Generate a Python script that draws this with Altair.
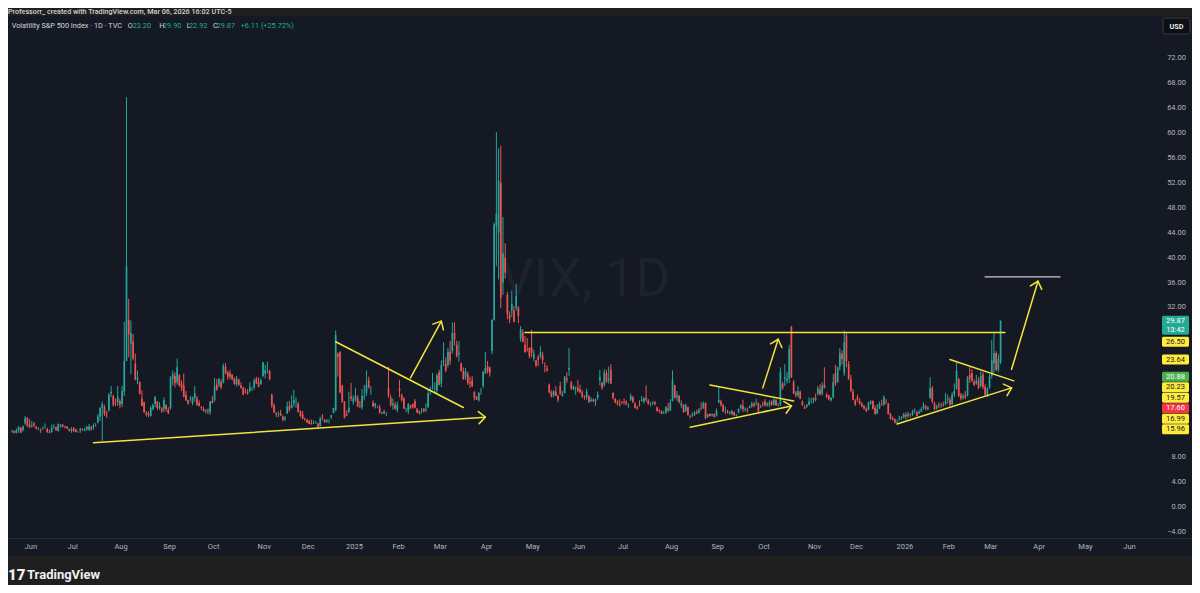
import math
import altair as alt
import pandas as pd

# ---------------- data ----------------
HOLIDAYS = ["2024-05-27", "2024-06-19", "2024-07-04", "2024-09-02", "2024-11-28", "2024-12-25",
            "2025-01-01", "2025-01-09", "2025-01-20", "2025-02-17", "2025-04-18", "2025-05-26",
            "2025-06-19", "2025-07-04", "2025-09-01", "2025-11-27", "2025-12-25",
            "2026-01-01", "2026-01-19", "2026-02-16", "2026-04-03", "2026-05-25", "2026-06-19"]

# daily candles (open, high, low, close) per month
MAY24 = [(12.1,12.4,11.9,12.2),(12.2,12.3,11.8,11.9),(11.9,12.6,11.8,12.3),(12.3,13.0,11.9,12.8),(12.7,12.8,11.9,11.9),
         (12.4,13.1,12.1,12.9),(13.4,14.6,13.2,14.3),(14.2,14.4,12.9,12.9),(13.2,14.1,12.6,12.9)]
JUN24 = [(13.0,13.8,12.7,13.1),(13.4,13.6,12.8,13.1),(12.9,13.0,12.4,12.6),(12.6,12.8,12.3,12.6),(12.3,12.6,11.9,12.2),
         (12.6,12.9,12.4,12.7),(12.9,13.4,12.6,12.9),(12.5,12.7,11.9,12.0),(12.0,12.4,11.8,11.9),(12.0,13.2,11.9,12.7),
         (12.7,13.3,12.6,12.8),(12.8,12.9,12.2,12.3),(12.2,13.4,12.1,13.3),(13.1,13.3,12.7,13.2),(13.2,13.3,12.8,12.8),
         (12.9,13.0,12.6,12.8),(12.9,13.0,12.5,12.6),(12.5,12.6,12.1,12.2),(12.2,12.8,11.9,12.4)]
JUL24 = [(12.6,12.8,12.0,12.2),(12.4,12.6,12.0,12.0),(12.1,12.2,11.9,12.1),(12.3,12.7,11.9,12.5),(12.5,12.6,12.2,12.4),
         (12.4,12.7,12.1,12.5),(12.5,12.9,12.2,12.9),(12.4,13.3,12.2,12.9),(12.8,13.0,12.2,12.5),(12.8,13.4,12.4,13.1),
         (13.2,13.5,12.9,13.2),(13.6,14.9,13.4,14.5),(14.5,16.0,13.8,15.9),(15.9,16.9,10.6,16.5),(16.0,16.4,14.6,14.9),
         (14.8,15.4,14.3,14.7),(15.5,18.3,15.3,18.0),(18.2,19.4,17.6,18.5),(17.8,18.0,16.1,16.4),(16.7,17.4,16.2,16.6),
         (16.8,19.4,16.2,17.7),(17.0,17.3,15.8,16.4)]
AUG24 = [(16.5,19.4,16.0,18.6),(18.5,29.7,17.8,23.4),(23.4,65.7,23.4,38.6),(30.0,33.4,24.0,27.7),(26.2,29.9,21.3,27.9),
         (26.5,27.7,23.5,23.8),(23.0,24.6,20.3,20.4),(20.4,21.9,19.7,20.7),(20.0,20.2,18.1,18.1),(17.4,18.7,16.2,16.2),
         (16.8,16.9,15.1,15.2),(15.1,15.4,14.5,14.8),(15.0,15.3,14.4,14.7),(14.6,16.2,14.5,15.9),(15.7,16.6,15.5,16.3),
         (16.5,17.8,16.0,17.6),(16.9,17.0,15.5,15.9),(15.9,16.8,15.6,16.2),(15.8,16.0,15.1,15.4),(15.7,17.6,15.2,17.1),
         (16.3,16.5,15.3,15.7),(15.6,16.0,14.9,15.0)]
SEP24 = [(15.8,21.0,15.6,20.7),(20.6,21.9,19.5,21.3),(21.0,21.6,19.2,19.9),(20.0,23.8,19.6,22.4),(21.1,21.3,19.3,19.5),
         (19.8,20.3,18.6,19.1),(19.5,21.4,17.6,17.7),(18.0,18.6,17.0,17.1),(17.1,17.2,16.4,16.6),(17.1,17.8,16.9,17.1),
         (16.6,17.7,16.3,17.6),(17.5,19.4,16.9,18.2),(17.4,17.8,16.3,16.3),(16.7,17.1,16.1,16.2),(16.0,16.2,15.6,15.9),
         (15.7,16.1,15.3,15.4),(15.3,15.7,15.0,15.4),(15.5,15.8,14.9,15.4),(15.2,17.0,14.8,16.9),(17.0,17.8,16.6,16.7)]
OCT24 = [(17.1,20.7,16.9,19.3),(19.6,20.5,18.6,18.9),(19.6,20.7,19.2,20.5),(20.0,20.5,18.9,19.2),(20.0,23.0,19.8,22.6),
         (22.5,23.1,21.3,21.4),(21.6,21.8,20.4,20.9),(21.5,22.0,20.5,20.9),(21.2,21.3,20.3,20.5),(20.6,20.8,19.6,19.7),
         (19.7,21.0,19.3,20.6),(20.4,20.6,19.4,19.6),(19.5,20.0,19.0,19.1),(19.1,19.3,18.0,18.0),(18.5,19.1,18.2,18.4),
         (18.5,18.9,18.0,18.2),(18.6,20.0,18.4,19.2),(19.1,19.3,18.6,19.1),(19.2,20.6,18.8,20.3),(20.6,20.9,19.7,19.8),
         (20.0,20.8,19.2,19.3),(19.7,20.6,19.6,20.4),(21.0,23.2,20.8,23.2)]
NOV24 = [(21.4,22.8,20.6,21.9),(22.0,23.3,21.4,22.0),(21.8,22.0,20.3,20.5),(18.0,18.2,15.9,16.3),(16.3,16.6,15.1,15.2),
         (15.1,15.2,14.4,14.9),(15.0,15.3,14.4,15.0),(15.0,15.6,14.6,14.7),(14.5,14.7,13.7,14.0),(14.1,14.6,13.8,14.3),
         (15.0,16.9,14.9,16.1),(16.2,17.0,15.3,15.6),(15.9,17.9,15.8,16.4),(16.6,18.8,16.1,17.2),(16.9,17.6,15.9,16.9),
         (16.6,16.8,15.2,15.2),(15.3,15.5,14.4,14.6),(14.9,15.4,14.1,14.1),(14.2,14.3,13.8,14.1),(14.0,14.1,13.5,13.5)]
DEC24 = [(13.8,14.0,13.3,13.3),(13.5,14.0,13.2,13.3),(13.5,13.9,13.3,13.5),(13.5,13.8,13.3,13.5),(13.4,13.5,12.7,12.8),
         (13.0,14.5,12.9,14.2),(14.3,14.9,13.9,14.2),(14.0,14.1,13.5,13.6),(13.7,14.1,13.5,13.9),(13.8,14.1,13.4,13.8),
         (14.4,14.8,14.1,14.7),(15.1,15.9,15.0,15.9),(15.6,28.3,15.3,27.6),(24.5,24.8,20.9,24.1),(24.8,25.0,18.2,18.4),
         (19.4,19.6,16.8,16.8),(16.9,17.0,14.2,14.3),(14.9,15.5,14.6,14.7),(15.2,18.5,15.1,15.9),(17.7,19.9,17.0,17.4),
         (16.9,17.9,16.4,17.4)]
JAN25 = [(17.2,19.1,16.9,17.9),(17.5,17.9,16.1,16.1),(16.1,17.0,15.9,16.0),(16.0,18.9,15.6,17.8),(17.6,19.6,17.1,17.7),
         (18.3,21.9,17.8,19.5),(20.3,20.9,19.0,19.2),(18.7,19.4,18.0,18.7),(16.7,17.1,16.0,16.1),(16.2,16.7,15.8,16.6),
         (16.0,16.2,15.9,16.0),(16.0,16.4,15.0,15.1),(15.0,15.3,14.9,15.1),(15.3,15.6,14.9,15.0),(14.9,15.2,14.6,14.9),
         (19.0,22.5,17.5,17.9),(17.5,18.0,16.1,16.4),(16.3,17.4,15.6,16.6),(16.4,16.8,15.6,15.8),(15.5,16.9,15.2,16.4)]
FEB25 = [(19.0,20.4,17.6,18.6),(18.0,18.2,16.9,17.2),(17.4,17.6,15.7,15.8),(15.5,15.9,15.2,15.5),(15.4,16.7,14.9,16.5),
         (16.2,16.4,15.8,15.8),(16.5,16.6,15.8,16.0),(17.0,17.3,15.8,15.9),(15.7,15.9,15.1,15.1),(15.3,15.5,14.8,15.0),
         (15.4,15.9,15.0,15.4),(15.8,15.8,15.2,15.3),(15.6,16.6,15.2,15.7),(16.0,18.9,15.9,18.2),(18.9,19.3,18.0,18.9),
         (19.3,21.5,18.8,19.4),(19.0,20.0,18.2,19.1),(18.7,21.4,18.1,21.1),(21.6,22.0,19.5,19.6)]
MAR25 = [(19.8,23.5,19.2,22.8),(23.2,26.4,22.6,23.5),(23.0,24.0,21.6,21.9),(22.8,25.5,22.4,24.9),(24.9,26.6,22.8,23.4),
         (25.0,29.6,24.6,27.9),(27.9,29.6,25.9,26.9),(26.0,26.7,24.0,24.2),(24.5,26.6,23.3,24.7),(23.0,23.2,21.7,21.8),
         (21.8,22.4,20.4,20.5),(20.9,22.3,20.4,21.7),(21.3,21.7,19.6,19.9),(20.0,20.9,19.1,19.8),(20.3,21.0,19.3,19.3),
         (18.5,18.5,17.1,17.5),(17.7,17.8,17.2,17.2),(17.1,18.4,16.9,18.3),(18.7,19.1,18.0,18.7),(19.4,21.8,19.1,21.7),
         (21.5,24.9,21.3,22.3)]
APR25 = [(22.6,23.4,21.4,21.8),(22.4,22.5,20.9,21.5),(25.0,30.1,24.5,30.0),(30.0,45.6,29.9,45.3),(45.0,60.1,38.6,47.0),
         (44.0,57.5,36.5,52.3),(52.0,57.9,31.9,33.6),(36.0,46.5,34.0,40.7),(40.0,42.3,36.6,37.6),(34.0,34.5,30.1,30.9),
         (30.8,31.4,29.5,30.1),(31.5,34.7,30.5,32.6),(31.5,32.2,29.6,29.7),(32.0,35.8,31.5,33.8),(32.0,32.2,29.5,30.6),
         (27.0,29.0,26.5,28.5),(28.0,28.5,26.4,26.5),(26.0,27.4,24.8,24.8),(25.3,27.1,24.9,25.2),(25.5,25.6,23.8,24.2),
         (25.6,28.4,24.0,24.7)]
MAY25 = [(23.8,25.2,23.4,24.6),(23.5,23.6,22.4,22.7),(24.1,24.4,22.6,23.6),(24.2,25.8,23.8,24.8),(24.3,24.9,22.9,23.6),
         (22.6,23.2,21.6,22.5),(22.2,22.7,21.7,21.9),(19.6,19.8,18.2,18.4),(18.4,18.7,17.6,17.7),(17.9,18.7,17.6,18.6),
         (18.5,19.4,17.8,17.8),(17.8,18.0,16.8,17.2),(19.4,20.1,18.0,18.1),(17.8,18.6,17.7,18.1),(18.3,21.0,18.2,20.9),
         (20.6,21.6,19.9,20.3),(22.0,25.5,21.0,22.3),(20.0,20.2,18.8,19.0),(18.9,19.5,18.7,19.3),(19.0,19.3,18.0,19.2),
         (19.1,20.4,18.4,18.6)]
JUN25 = [(18.9,19.6,18.2,18.4),(18.4,18.8,17.5,17.7),(17.7,17.9,17.2,17.6),(17.6,19.0,17.2,18.5),(17.8,17.9,16.7,16.8),
         (17.0,17.6,16.8,17.2),(17.2,17.4,16.8,17.0),(16.9,17.4,16.2,17.3),(17.5,18.5,17.2,18.0),(20.3,22.0,19.5,20.8),
         (19.9,20.1,18.8,19.1),(19.6,22.1,19.3,21.6),(21.5,22.0,19.9,20.1),(20.3,22.5,19.8,20.6),(22.0,22.9,19.7,19.8),
         (18.3,18.4,17.2,17.5),(17.3,17.5,16.6,16.8),(16.9,17.1,16.3,16.6),(16.5,17.3,16.1,16.3),(16.8,17.0,16.5,16.7)]
JUL25 = [(16.9,17.4,16.4,16.8),(16.9,17.1,16.3,16.6),(16.4,16.6,15.9,16.4),(17.2,18.2,17.0,17.8),(17.6,17.8,16.7,16.8),
         (16.6,16.8,15.8,15.9),(16.0,16.2,15.6,15.8),(16.5,17.1,16.1,16.4),(17.0,17.8,16.9,17.2),(16.9,17.6,16.6,17.4),
         (17.5,19.5,16.9,17.2),(17.1,17.3,16.4,16.5),(16.4,16.8,16.1,16.4),(16.6,17.0,16.3,16.7),(16.8,17.0,16.3,16.5),
         (16.0,16.1,15.3,15.4),(15.5,15.7,15.1,15.4),(15.3,15.5,14.9,14.9),(15.0,15.4,14.9,15.0),(15.1,16.2,14.9,16.0),
         (15.8,16.7,15.2,15.5),(15.5,17.3,15.4,16.7)]
AUG25 = [(17.0,21.9,16.9,20.4),(19.5,19.6,17.4,17.5),(17.6,18.6,17.0,17.9),(17.8,18.0,16.6,16.8),(16.3,17.1,15.9,16.6),
         (16.4,16.5,15.1,15.2),(15.4,16.6,15.2,16.3),(16.0,16.1,14.7,14.7),(14.6,14.8,14.2,14.5),(14.7,15.2,14.4,14.8),
         (14.8,15.4,14.6,15.1),(15.2,15.6,14.9,15.0),(15.1,15.9,15.0,15.6),(15.8,16.8,15.5,15.7),(15.9,16.9,15.7,16.6),
         (16.7,16.8,14.1,14.2),(14.5,15.0,14.3,14.8),(14.9,15.0,14.5,14.6),(14.7,15.0,14.5,14.9),(14.9,15.0,14.4,14.4),
         (14.7,15.8,14.5,15.4)]
SEP25 = [(16.8,19.4,16.6,17.2),(16.9,17.2,16.1,16.4),(16.4,16.5,15.2,15.3),(15.2,16.1,14.9,15.2),(15.3,15.6,15.0,15.1),
         (15.1,15.4,14.8,15.0),(14.9,15.6,14.7,15.4),(15.2,15.3,14.6,14.7),(14.7,14.9,14.5,14.8),(15.2,15.8,15.0,15.7),
         (15.9,16.4,15.6,16.4),(16.2,17.2,15.2,15.7),(15.6,16.0,15.3,15.7),(15.6,15.9,15.1,15.5),(15.9,16.3,15.8,16.1),
         (16.2,16.9,15.9,16.6),(16.5,16.8,16.0,16.2),(16.6,17.4,16.3,16.7),(16.6,16.8,15.2,15.3),(16.0,16.4,15.9,16.1),
         (16.4,16.9,16.1,16.3)]
OCT25 = [(16.9,17.3,16.1,16.3),(16.3,16.8,16.1,16.6),(16.4,17.1,16.0,16.7),(16.9,17.1,16.2,16.4),(16.4,17.4,16.3,17.2),
         (17.1,17.3,16.2,16.3),(16.3,16.7,16.1,16.4),(16.5,22.4,16.2,21.7),(19.8,20.0,18.8,19.0),(20.6,22.9,19.4,20.8),
         (20.3,21.7,19.8,20.6),(20.6,26.0,19.9,25.3),(28.9,29.0,20.7,20.8),(20.0,20.4,18.1,18.2),(18.3,18.6,17.6,17.9),
         (17.9,19.4,17.6,18.6),(18.5,18.7,17.3,17.3),(16.9,17.1,16.2,16.4),(16.0,16.3,15.7,15.8),(16.1,16.5,15.9,16.4),
         (16.4,17.6,16.3,16.9),(16.9,17.5,16.6,16.9),(17.1,17.6,16.6,17.4)]
NOV25 = [(17.5,18.2,16.9,17.2),(18.2,19.4,17.9,19.0),(18.8,19.7,17.9,18.0),(18.2,20.0,17.9,19.5),(19.6,22.4,19.0,19.1),
         (18.0,18.3,17.4,17.6),(17.9,18.0,17.1,17.3),(17.1,17.6,16.9,17.5),(17.6,21.3,17.4,20.0),(21.5,22.8,19.4,19.8),
         (20.1,22.5,19.9,22.4),(22.5,25.5,21.9,24.7),(24.5,25.1,22.8,23.7),(21.5,28.3,21.0,26.4),(27.5,28.0,22.4,23.4),
         (22.9,23.4,20.4,20.5),(20.5,21.2,18.4,18.6),(18.5,18.9,17.1,17.2),(17.1,17.3,16.2,16.4)]
DEC25 = [(17.6,18.0,16.9,17.2),(17.0,17.4,16.4,16.6),(16.6,16.8,16.0,16.1),(16.2,16.4,15.6,15.8),(15.7,16.0,15.2,15.4),
         (15.6,16.9,15.5,16.7),(16.6,17.2,16.4,16.9),(17.0,17.1,15.6,15.8),(15.9,16.3,14.8,14.9),(15.0,16.5,14.9,15.7),
         (15.8,16.9,15.7,16.5),(16.6,17.2,16.2,16.5),(16.4,17.9,16.2,17.6),(17.0,17.3,16.5,16.9),(16.6,16.7,14.8,14.9),
         (14.9,15.1,14.0,14.1),(14.2,14.5,13.9,14.0),(14.1,14.2,13.4,13.5),(13.6,14.0,13.4,13.6),(14.0,14.6,13.9,14.2),
         (14.2,14.6,14.0,14.3),(14.4,15.1,14.2,14.9)]
JAN26 = [(14.8,15.2,14.0,14.5),(14.6,15.3,14.3,14.9),(14.9,15.0,14.4,14.8),(14.8,15.6,14.6,15.3),(15.4,15.8,15.0,15.5),
         (15.2,15.4,14.5,14.6),(15.0,15.6,14.9,15.2),(15.3,16.0,15.2,15.7),(15.9,16.8,15.6,16.3),(16.1,16.4,15.5,15.8),
         (15.7,16.2,15.5,15.9),(17.5,20.8,17.3,19.1),(19.0,19.4,16.6,16.9),(16.6,16.9,15.5,15.7),(15.8,16.4,15.6,16.1),
         (16.3,16.8,15.9,16.2),(16.3,16.7,15.9,16.4),(16.4,16.9,16.1,16.3),(16.5,18.3,16.3,17.0),(17.2,18.0,16.6,17.4)]
FEB26 = [(17.2,17.6,16.1,16.4),(16.5,18.4,16.3,18.0),(18.0,19.8,17.6,18.6),(19.0,23.1,18.8,21.8),(20.5,20.7,17.6,17.8),
         (18.0,18.3,17.1,17.4),(17.5,18.2,17.2,17.8),(17.9,18.6,17.3,17.6),(17.9,21.0,17.7,20.8),(21.2,22.5,19.9,20.6),
         (21.5,22.1,20.0,20.3),(20.1,20.5,19.4,19.6),(19.8,21.2,19.6,20.2),(20.4,20.8,18.9,19.1),(19.4,21.7,19.2,21.0),
         (21.3,21.6,18.9,19.2),(19.3,19.7,17.8,18.0),(17.9,19.2,17.6,19.0),(19.2,21.3,18.9,20.9)]
MAR26 = [(21.0,26.8,20.6,23.5),(23.0,28.0,21.5,24.7),(24.7,25.0,21.8,22.0),(22.0,24.5,21.6,23.76),(23.20,29.90,22.92,29.87)]

MONTHS = [MAY24, JUN24, JUL24, AUG24, SEP24, OCT24, NOV24, DEC24, JAN25, FEB25, MAR25, APR25, MAY25,
          JUN25, JUL25, AUG25, SEP25, OCT25, NOV25, DEC25, JAN26, FEB26, MAR26]

# time-axis month labels
MONTH_KEYS = ["2024-06", "2024-07", "2024-08", "2024-09", "2024-10", "2024-11", "2024-12", "2025-01",
              "2025-02", "2025-03", "2025-04", "2025-05", "2025-06", "2025-07", "2025-08", "2025-09",
              "2025-10", "2025-11", "2025-12", "2026-01", "2026-02", "2026-03", "2026-04", "2026-05", "2026-06"]
MONTH_TEXT = ["Jun", "Jul", "Aug", "Sep", "Oct", "Nov", "Dec", "2025", "Feb", "Mar", "Apr", "May", "Jun",
              "Jul", "Aug", "Sep", "Oct", "Nov", "Dec", "2026", "Feb", "Mar", "Apr", "May", "Jun"]

# price-scale tick labels that are visible
Y_TICKS = [72, 68, 64, 60, 56, 52, 48, 44, 40, 36, 32, 8, 4, 0, -4]

# price-scale labels (value, kind)
LABEL_VALUES = [29.87, 26.50, 23.64, 20.88, 20.23, 19.57, 17.60, 16.99, 15.96]
LABEL_KINDS = ["last", "draw", "draw", "green", "draw", "draw", "red", "draw", "draw"]

# drawings: start date, start price, end date, end price, arrow head
DRAW_START = ["2024-07-15", "2024-12-18", "2025-02-10", "2025-04-25", "2025-09-30",
              "2025-08-26", "2025-08-13", "2025-12-26", "2026-02-02", "2026-03-13"]
DRAW_P0 = [10.3, 26.5, 20.7, 28.0, 19.1, 19.57, 12.8, 13.3, 23.64, 22.1]
DRAW_END = ["2025-03-31", "2025-03-17", "2025-03-03", "2026-03-10", "2025-10-09",
            "2025-10-20", "2025-10-17", "2026-03-13", "2026-03-16", "2026-03-31"]
DRAW_P1 = [14.4, 15.96, 29.8, 28.0, 26.9, 16.99, 16.2, 19.1, 20.23, 36.2]
DRAW_ARROW = [True, False, True, False, True, False, True, True, False, True]
GREY_LINE = ("2026-02-25", "2026-04-15", 36.9)

# ---------------- styling / layout ----------------
FONT = "Roboto"
OUTER = "#1f1f1f"
PANEL = "#151924"
UP = "#26a69a"
DOWN = "#ef5350"
YELLOW = "#f3e43c"
AXIS_TXT = "#b2b5be"
LEG_TXT = "#d1d4dc"
TEAL_TXT = "#22ab94"

W, H = 1150, 522
BAR_PX = 2.221
XMIN = 1.0 / BAR_PX
XMAX = XMIN + W / BAR_PX
Y_PX = 6.236
YMAX = 491.0 / Y_PX
YMIN = YMAX - H / Y_PX
SX = W / (XMAX - XMIN)
SY = H / (YMAX - YMIN)

xs = alt.Scale(domain=[XMIN, XMAX], nice=False, zero=False)
ys = alt.Scale(domain=[YMIN, YMAX], nice=False, zero=False)

# calendar of trading days
hol = set(HOLIDAYS)
days = [d for d in pd.bdate_range("2024-05-20", "2026-06-30") if d.strftime("%Y-%m-%d") not in hol]
idx = {d.strftime("%Y-%m-%d"): i for i, d in enumerate(days)}

candles = [c for m in MONTHS for c in m]
df = pd.DataFrame(candles, columns=["o", "h", "l", "c"])
df["i"] = range(len(df))
df["dir"] = ["up" if c >= o else "down" for o, c in zip(df.o, df.c)]

one = pd.DataFrame({"a": [0]})


def txt(x, y, s, size=7.5, color=AXIS_TXT, align="left", weight="normal", baseline="middle"):
    return alt.Chart(pd.DataFrame({"t": [s]})).mark_text(
        font=FONT, fontSize=size, color=color, align=align, fontWeight=weight, baseline=baseline
    ).encode(x=alt.value(x), y=alt.value(y), text="t:N")


panel = alt.Chart(one).mark_rect(color=PANEL).encode(
    x=alt.value(-3), x2=alt.value(1184), y=alt.value(0), y2=alt.value(540))
sep = alt.Chart(one).mark_rule(color="#2a2e39", strokeWidth=1).encode(
    x=alt.value(-3), x2=alt.value(1184), y=alt.value(522.5))
watermark = txt(577, 280, "VIX, 1D", size=53, color="#1e222e", align="center", baseline="alphabetic")

colr = alt.Color("dir:N", scale=alt.Scale(domain=["up", "down"], range=[UP, DOWN]), legend=None)
wicks = alt.Chart(df).mark_rule(strokeWidth=1).encode(
    x=alt.X("i:Q", scale=xs, axis=None), y=alt.Y("l:Q", scale=ys, axis=None), y2="h:Q", color=colr)
bodies = alt.Chart(df).mark_bar(size=1.7).encode(
    x=alt.X("i:Q", scale=xs, axis=None), y=alt.Y("o:Q", scale=ys, axis=None), y2="c:Q", color=colr)

# drawings
segs = []
for s0, p0, s1, p1, arr in zip(DRAW_START, DRAW_P0, DRAW_END, DRAW_P1, DRAW_ARROW):
    x1, x2 = idx[s0], idx[s1]
    segs.append(dict(x1=x1, y1=p0, x2=x2, y2=p1, col=YELLOW, w=1.5))
    if arr:
        ang = math.atan2(-(p1 - p0) * SY, (x2 - x1) * SX)
        for sgn in (1, -1):
            a = ang + math.pi + sgn * math.radians(42)
            ax, ay = math.cos(a) * 9, math.sin(a) * 9
            segs.append(dict(x1=x2, y1=p1, x2=x2 + ax / SX, y2=p1 - ay / SY, col=YELLOW, w=1.5))
segs.append(dict(x1=idx[GREY_LINE[0]], y1=GREY_LINE[2], x2=idx[GREY_LINE[1]], y2=GREY_LINE[2],
                 col="#c8cad0", w=1.3))
segdf = pd.DataFrame(segs)
drawings = alt.Chart(segdf).mark_rule(strokeCap="round").encode(
    x=alt.X("x1:Q", scale=xs, axis=None), x2="x2:Q",
    y=alt.Y("y1:Q", scale=ys, axis=None), y2="y2:Q",
    color=alt.Color("col:N", scale=None), strokeWidth=alt.StrokeWidth("w:Q", scale=None))

# month labels
mrows = []
for key, t in zip(MONTH_KEYS, MONTH_TEXT):
    first = next(i for i, d in enumerate(days) if d.strftime("%Y-%m") == key)
    mrows.append(dict(i=first, t=t))
months = alt.Chart(pd.DataFrame(mrows)).mark_text(
    font=FONT, fontSize=7.5, color=AXIS_TXT, align="center", baseline="middle", dx=-1
).encode(x=alt.X("i:Q", scale=xs, axis=None), y=alt.value(531), text="t:N")

# price tick labels
ytl = pd.DataFrame({"v": Y_TICKS, "t": [(f"{v:.2f}").replace("-", "\u2212") for v in Y_TICKS]})
yticks = alt.Chart(ytl).mark_text(
    font=FONT, fontSize=7.5, color=AXIS_TXT, align="right", baseline="middle"
).encode(x=alt.value(1178), y=alt.Y("v:Q", scale=ys, axis=None), text="t:N")


# price labels with stacking
def to_px(v):
    return (YMAX - v) * SY


def to_v(p):
    return YMAX - p / SY


fills = {"last": "#22ab94", "draw": "#ffeb3b", "green": "#4caf50", "red": "#f23645"}
tcols = {"last": "#ffffff", "draw": "#131722", "green": "#ffffff", "red": "#ffffff"}
rows = []
prev_bottom = -1e9
for v, k in zip(LABEL_VALUES, LABEL_KINDS):
    c = max(to_px(v), prev_bottom + 5.25)
    top = c - 5.0
    bot = c + (14.0 if k == "last" else 5.0)
    prev_bottom = bot if k == "last" else c + 5.25
    rows.append(dict(top=to_v(top), bot=to_v(bot), mid=to_v(c), mid2=to_v(c + 9.3),
                     t=f"{v:.2f}", t2=("13:42" if k == "last" else ""), fill=fills[k], tc=tcols[k]))
ldf = pd.DataFrame(rows)
lbox = alt.Chart(ldf).mark_rect(cornerRadius=1.5).encode(
    x=alt.value(1154), x2=alt.value(1181),
    y=alt.Y("top:Q", scale=ys, axis=None), y2="bot:Q", color=alt.Color("fill:N", scale=None))
ltxt = alt.Chart(ldf).mark_text(font=FONT, fontSize=7.5, align="center", baseline="middle").encode(
    x=alt.value(1167.5), y=alt.Y("mid:Q", scale=ys, axis=None), text="t:N",
    color=alt.Color("tc:N", scale=None))
ltxt2 = alt.Chart(ldf).mark_text(font=FONT, fontSize=7.5, align="center", baseline="middle").encode(
    x=alt.value(1167.5), y=alt.Y("mid2:Q", scale=ys, axis=None), text="t2:N",
    color=alt.Color("tc:N", scale=None))

# USD box
usd_box = alt.Chart(one).mark_rect(color="#0e0f13", stroke="#3a3e49", strokeWidth=1, cornerRadius=2).encode(
    x=alt.value(1155), x2=alt.value(1182), y=alt.value(2), y2=alt.value(18))
usd_txt = txt(1168.5, 10.5, "USD", size=7.3, color="#e6e6e6", align="center", weight="bold")

# header / legend
header = txt(0, -2.5, "Professorr_ created with TradingView.com, Mar 06, 2026 16:02 UTC-5",
             size=7.2, color=LEG_TXT, weight=500, baseline="alphabetic")
legend_parts = [
    txt(3.7, 9.7, "Volatility S&P 500 Index \u00b7 1D \u00b7 TVC", size=7.3, color=LEG_TXT),
    txt(119.7, 9.7, "O", size=7.3, color=LEG_TXT), txt(124.7, 9.7, "23.20", size=7.3, color=TEAL_TXT),
    txt(151.3, 9.7, "H", size=7.3, color=LEG_TXT), txt(155.0, 9.7, "29.90", size=7.3, color=TEAL_TXT),
    txt(178.7, 9.7, "L", size=7.3, color=LEG_TXT), txt(181.0, 9.7, "22.92", size=7.3, color=TEAL_TXT),
    txt(205.0, 9.7, "C", size=7.3, color=LEG_TXT), txt(208.7, 9.7, "29.87", size=7.3, color=TEAL_TXT),
    txt(232.7, 9.7, "+6.11 (+25.72%)", size=7.3, color=TEAL_TXT),
]
logo = txt(0, 559, "17", size=15, color="#f0f0f0", weight=900)
logo_txt = txt(19, 559, "TradingView", size=13, color="#f0f0f0", weight="bold")

chart = alt.layer(
    panel, sep, watermark, wicks, bodies, drawings, months, yticks,
    lbox, ltxt, ltxt2, usd_box, usd_txt, header, *legend_parts, logo, logo_txt
).properties(
    width=W, height=H,
    padding={"left": 0, "top": 8, "right": 34, "bottom": 47},
    autosize=alt.AutoSizeParams(type="none"),
    background=OUTER,
).configure_view(strokeWidth=0)

chart.save("out.html", embed_options={"renderer": "svg", "actions": False})
